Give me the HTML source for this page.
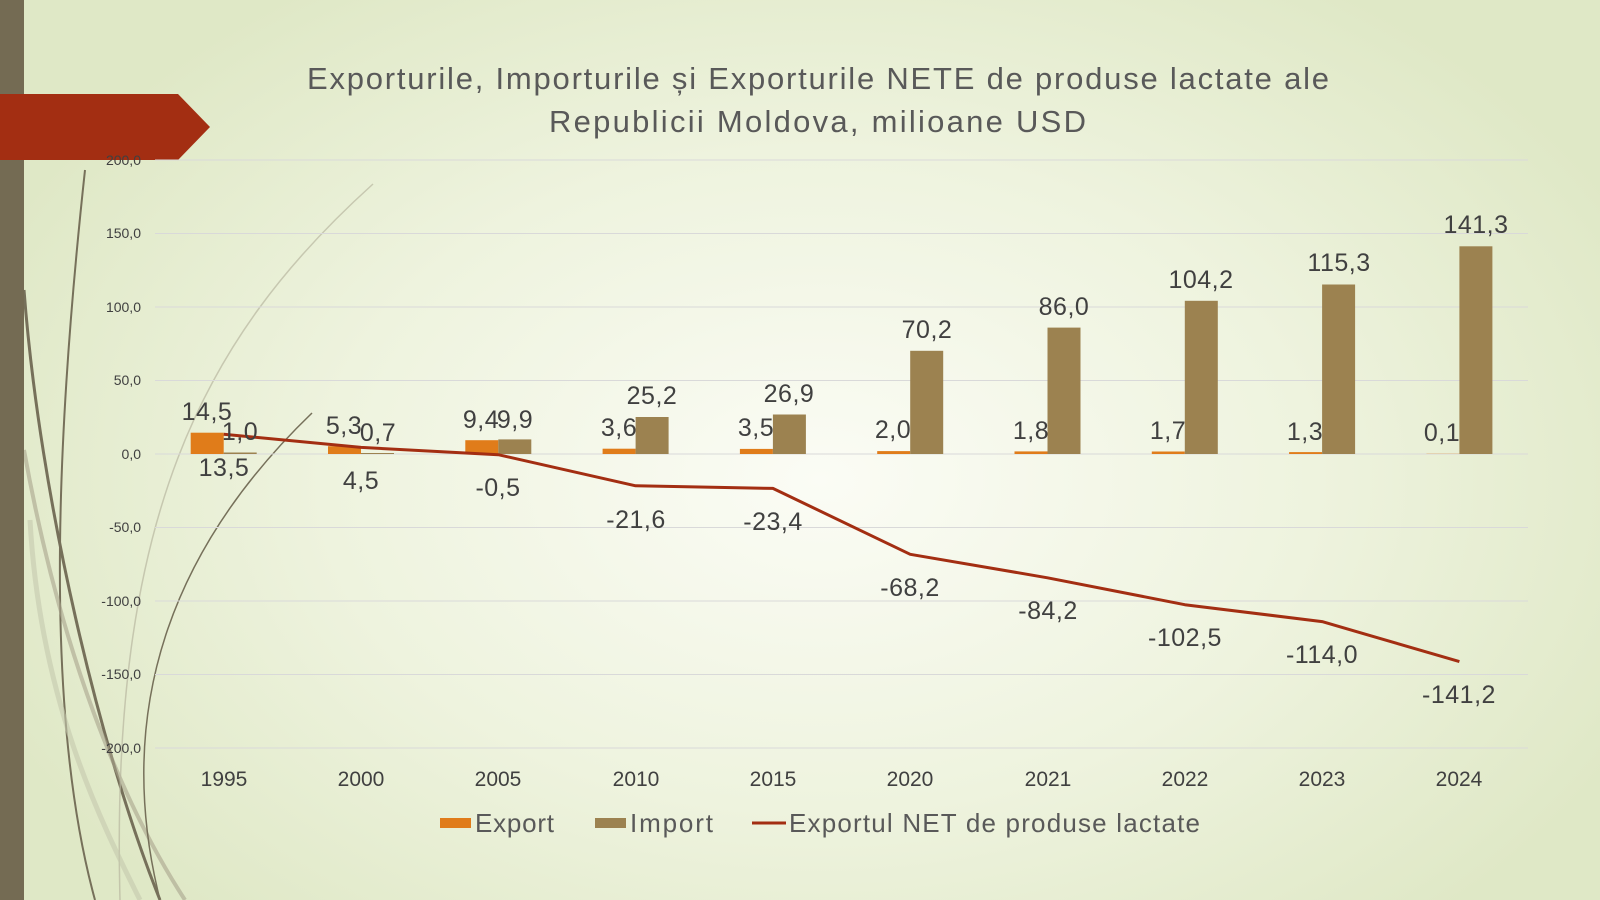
<!DOCTYPE html>
<html><head><meta charset="utf-8"><style>
html,body{margin:0;padding:0;width:1600px;height:900px;overflow:hidden}
body{background:radial-gradient(ellipse 900px 600px at 820px 480px,#fbfcf5 0%,#eef3de 55%,#dfe8c6 100%)}
svg{position:absolute;left:0;top:0}
text{font-family:"Liberation Sans","DejaVu Sans",sans-serif;fill:#404040}
</style></head><body>
<svg width="1600" height="900" viewBox="0 0 1600 900">
<g fill="none">
<path d="M85 170 C60 400 40 700 95 900" stroke="#76705a" stroke-width="2"/>
<path d="M24 290 C40 500 100 750 160 900" stroke="#76705a" stroke-width="3"/>
<path d="M24 450 C60 650 120 800 185 900" stroke="#a9a48c" stroke-width="4" opacity="0.6"/>
<path d="M373 184 C200 340 110 520 120 900" stroke="#b8b6a0" stroke-width="1.5" opacity="0.7"/>
<path d="M312 413 C180 540 110 700 160 900" stroke="#76705a" stroke-width="1.5"/>
<path d="M30 520 C40 700 100 820 140 900" stroke="#c5c8ad" stroke-width="5" opacity="0.6"/>
</g>
<rect x="0" y="0" width="24" height="900" fill="#746b53"/>
<polygon points="0,94 178,94 210,127 178,160 0,160" fill="#a32e12"/>
<text x="307" y="89" font-size="31" textLength="1022" lengthAdjust="spacing" style="fill:#595959">Exporturile, Importurile și Exporturile NETE de produse lactate ale</text>
<text x="549" y="132" font-size="31" textLength="537" lengthAdjust="spacing" style="fill:#595959">Republicii Moldova, milioane USD</text>
<g stroke="#d9d9d9" stroke-width="1">
<line x1="155" x2="1528" y1="160" y2="160"/><line x1="155" x2="1528" y1="233.5" y2="233.5"/>
<line x1="155" x2="1528" y1="307" y2="307"/><line x1="155" x2="1528" y1="380.5" y2="380.5"/>
<line x1="155" x2="1528" y1="454" y2="454"/><line x1="155" x2="1528" y1="527.5" y2="527.5"/>
<line x1="155" x2="1528" y1="601" y2="601"/><line x1="155" x2="1528" y1="674.5" y2="674.5"/>
<line x1="155" x2="1528" y1="748" y2="748"/>
</g>
<g font-size="14" text-anchor="end">
<text x="141" y="165">200,0</text><text x="141" y="238">150,0</text><text x="141" y="312">100,0</text>
<text x="141" y="385">50,0</text><text x="141" y="459">0,0</text><text x="141" y="532">-50,0</text>
<text x="141" y="606">-100,0</text><text x="141" y="679">-150,0</text><text x="141" y="753">-200,0</text>
</g>
<g fill="#e07c1a">
<rect x="190.7" y="432.7" width="33" height="21.3"/>
<rect x="328" y="446.2" width="33" height="7.8"/>
<rect x="465.3" y="440.2" width="33" height="13.8"/>
<rect x="602.6" y="448.7" width="33" height="5.3"/>
<rect x="739.9" y="448.9" width="33" height="5.1"/>
<rect x="877.2" y="451.1" width="33" height="2.9"/>
<rect x="1014.5" y="451.4" width="33" height="2.6"/>
<rect x="1151.8" y="451.5" width="33" height="2.5"/>
<rect x="1289.1" y="452.1" width="33" height="1.9"/>
<rect x="1426.4" y="453.8" width="33" height="0.2"/>
</g>
<g fill="#9c8250">
<rect x="223.7" y="452.5" width="33" height="1.5"/>
<rect x="361" y="453" width="33" height="1"/>
<rect x="498.3" y="439.4" width="33" height="14.6"/>
<rect x="635.6" y="417" width="33" height="37"/>
<rect x="772.9" y="414.5" width="33" height="39.5"/>
<rect x="910.2" y="350.8" width="33" height="103.2"/>
<rect x="1047.5" y="327.6" width="33" height="126.4"/>
<rect x="1184.8" y="300.8" width="33" height="153.2"/>
<rect x="1322.1" y="284.5" width="33" height="169.5"/>
<rect x="1459.4" y="246.3" width="33" height="207.7"/>
</g>
<polyline fill="none" stroke="#a32e12" stroke-width="3" stroke-linejoin="round" points="223.7,434.2 361,447.4 498.3,454.7 635.6,485.8 772.9,488.4 910.2,554.3 1047.5,577.8 1184.8,604.7 1322.1,621.6 1459.4,661.6"/>
<g font-size="25" text-anchor="middle" letter-spacing="0.5">
<text x="207" y="420">14,5</text><text x="240" y="440">1,0</text>
<text x="344" y="434">5,3</text><text x="378" y="441">0,7</text>
<text x="481" y="428">9,4</text><text x="515" y="428">9,9</text>
<text x="619" y="436">3,6</text><text x="652" y="404">25,2</text>
<text x="756" y="436">3,5</text><text x="789" y="402">26,9</text>
<text x="893" y="438">2,0</text><text x="927" y="338">70,2</text>
<text x="1031" y="439">1,8</text><text x="1064" y="315">86,0</text>
<text x="1168" y="439">1,7</text><text x="1201" y="288">104,2</text>
<text x="1305" y="440">1,3</text><text x="1339" y="271">115,3</text>
<text x="1442" y="441">0,1</text><text x="1476" y="233">141,3</text>
<text x="224" y="476">13,5</text><text x="361" y="489">4,5</text>
<text x="498" y="496">-0,5</text><text x="636" y="528">-21,6</text>
<text x="773" y="530">-23,4</text><text x="910" y="596">-68,2</text>
<text x="1048" y="619">-84,2</text><text x="1185" y="646">-102,5</text>
<text x="1322" y="663">-114,0</text><text x="1459" y="703">-141,2</text>
</g>
<g font-size="21" text-anchor="middle" style="fill:#595959">
<text x="224" y="786">1995</text><text x="361" y="786">2000</text><text x="498" y="786">2005</text>
<text x="636" y="786">2010</text><text x="773" y="786">2015</text><text x="910" y="786">2020</text>
<text x="1048" y="786">2021</text><text x="1185" y="786">2022</text><text x="1322" y="786">2023</text>
<text x="1459" y="786">2024</text>
</g>
<rect x="440" y="818" width="31" height="10" fill="#e07c1a"/>
<text x="475" y="832" font-size="26" textLength="79" style="fill:#595959">Export</text>
<rect x="595" y="818" width="31" height="10" fill="#9c8250"/>
<text x="630" y="832" font-size="26" textLength="83" style="fill:#595959">Import</text>
<line x1="752" x2="786" y1="823" y2="823" stroke="#a32e12" stroke-width="3"/>
<text x="789" y="832" font-size="26" textLength="411" style="fill:#595959">Exportul NET de produse lactate</text>
</svg>
</body></html>
